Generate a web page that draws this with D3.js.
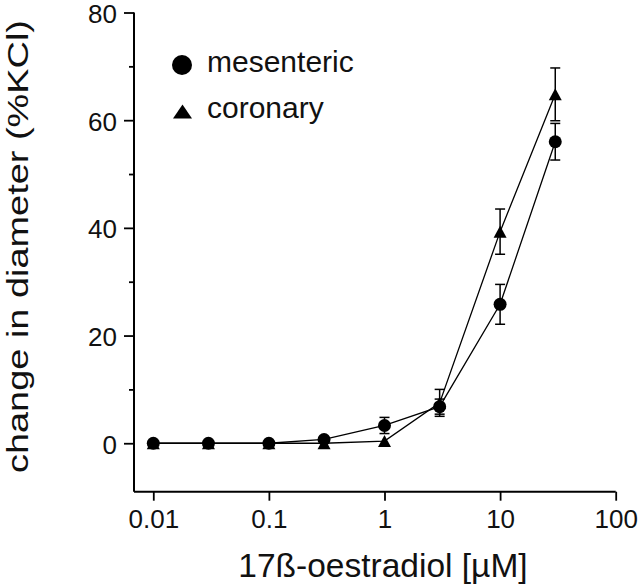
<!DOCTYPE html>
<html>
<head>
<meta charset="utf-8">
<script src="https://cdn.jsdelivr.net/npm/d3@7"></script>
<style>
  html, body { margin: 0; padding: 0; background: #fff; }
  svg { display: block; font-family: "Liberation Sans", Arial, Helvetica, sans-serif; }
</style>
</head>
<body>
<svg id="chart" width="640" height="585"></svg>
<script>
// ---- data ----
const concentrations = [0.01, 0.03, 0.1, 0.3, 1, 3, 10, 30];
const mesentericValues = [0, 0, 0, 0.7, 3.3, 6.8, 25.8, 56];
const mesentericErrors = [0, 0, 0, 0.4, 1.5, 1.4, 3.7, 3.4];
const coronaryValues = [0, 0, 0, 0, 0.4, 7.5, 39.3, 64.8];
const coronaryErrors = [0, 0, 0, 0, 0, 2.5, 4.2, 4.9];
const xTickValues = [0.01, 0.1, 1, 10, 100];
const xTickLabels = ["0.01", "0.1", "1", "10", "100"];
const yTickValues = [0, 20, 40, 60, 80];
const yMinorTicks = [10, 30, 50, 70];
const seriesNames = ["mesenteric", "coronary"];

const svg = d3.select("#chart");

const x = d3.scaleLog().domain([0.00681, 100]).range([134, 615.7]);
const y = d3.scaleLinear().domain([-9, 80]).range([491.7, 12.5]);

// axes
const xAxis = d3.axisBottom(x).tickValues(xTickValues)
  .tickFormat((d, i) => xTickLabels[i]).tickSize(9).tickPadding(9);
const gx = svg.append("g").attr("transform", `translate(0,${y(-9)})`).call(xAxis);
gx.select(".domain").attr("d", `M${x.range()[0]},0H${x.range()[1]}`);

const yAxis = d3.axisLeft(y).tickValues(yTickValues).tickSize(10).tickPadding(7);
const gy = svg.append("g").attr("transform", `translate(${x.range()[0]},0)`).call(yAxis);
gy.select(".domain").attr("d", `M0,${y.range()[1]}V${y.range()[0]}`);

const gyMinor = svg.append("g").attr("transform", `translate(${x.range()[0]},0)`)
  .call(d3.axisLeft(y).tickValues(yMinorTicks).tickSize(5).tickFormat(""));
gyMinor.select(".domain").remove();

svg.selectAll(".domain").attr("stroke", "#000").attr("stroke-width", 2);
svg.selectAll(".tick line").attr("stroke", "#000").attr("stroke-width", 1.8);
svg.selectAll(".tick text").attr("fill", "#111").style("font-size", "26px")
  .style("font-family", "'Liberation Sans', Arial, sans-serif");
gx.selectAll(".tick text").attr("dy", "0.71em");
gy.selectAll(".tick text").attr("dy", "0.38em");

// axis titles
svg.append("text")
  .attr("x", 383).attr("y", 577)
  .attr("text-anchor", "middle")
  .style("font-size", "33.5px").attr("fill", "#111")
  .text("17ß-oestradiol [µM]");

svg.append("text")
  .attr("transform", "translate(28,246.5) rotate(-90)")
  .attr("text-anchor", "middle")
  .attr("textLength", 453).attr("lengthAdjust", "spacingAndGlyphs")
  .style("font-size", "30px").attr("fill", "#111")
  .text("change in diameter (%KCl)");

// series
const series = [
  { name: seriesNames[0], values: mesentericValues, errors: mesentericErrors, shape: "circle" },
  { name: seriesNames[1], values: coronaryValues, errors: coronaryErrors, shape: "triangle" }
];

const line = d3.line().x(d => x(d.c)).y(d => y(d.v));

series.forEach(s => {
  const pts = concentrations.map((c, i) => ({ c, v: s.values[i], e: s.errors[i] }));
  svg.append("path").datum(pts).attr("d", line)
    .attr("fill", "none").attr("stroke", "#000").attr("stroke-width", 1.3);
  s.pts = pts;
});

// error bars
series.forEach(s => {
  const eb = svg.append("g").attr("stroke", "#000").attr("stroke-width", 1.5);
  s.pts.filter(d => d.e > 0).forEach(d => {
    const cx = x(d.c);
    eb.append("line").attr("x1", cx).attr("x2", cx).attr("y1", y(d.v - d.e)).attr("y2", y(d.v + d.e));
    [d.v - d.e, d.v + d.e].forEach(val => {
      eb.append("line").attr("x1", cx - 5).attr("x2", cx + 5).attr("y1", y(val)).attr("y2", y(val));
    });
  });
});

// markers (coronary first, mesenteric on top)
function triPath(cx, cy, w, h) {
  return `M${cx},${cy - h / 2}L${cx + w / 2},${cy + h / 2}L${cx - w / 2},${cy + h / 2}Z`;
}
svg.append("g").selectAll("path").data(series[1].pts).join("path")
  .attr("d", d => triPath(x(d.c), y(d.v), 13, 12)).attr("fill", "#000");
svg.append("g").selectAll("circle").data(series[0].pts).join("circle")
  .attr("cx", d => x(d.c)).attr("cy", d => y(d.v)).attr("r", 6.5).attr("fill", "#000");

// legend
const leg = svg.append("g");
leg.append("circle").attr("cx", 182).attr("cy", 65).attr("r", 10).attr("fill", "#000");
leg.append("path").attr("d", triPath(182.5, 111.5, 19, 14)).attr("fill", "#000");
leg.append("text").attr("x", 207).attr("y", 72).style("font-size", "30px").attr("fill", "#111").text(seriesNames[0]);
leg.append("text").attr("x", 207).attr("y", 118).style("font-size", "30px").attr("fill", "#111").text(seriesNames[1]);
</script>
</body>
</html>
